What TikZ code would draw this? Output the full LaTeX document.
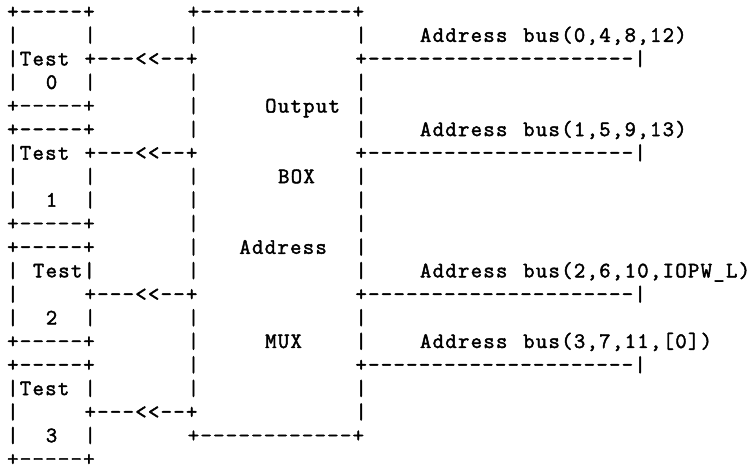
\documentclass[tikz,border=0pt]{standalone}
\usepackage{fontspec}
\setmonofont{Latin Modern Mono}[FakeBold=2, LetterSpace=6.14]
\newcommand\pitch{12.9}
\newcommand\rowh{23.55}
\tikzset{
  ascii/.style={anchor=base west, inner sep=0pt, outer sep=0pt,
    font=\ttfamily\fontsize{22}{22}\selectfont, text=black}
}
\newcommand\At[4]{\node[ascii] (#1) at ({7.2+#2*\pitch},{-(18.3+#3*\rowh)}) {#4};}
\begin{document}
\begin{tikzpicture}[x=1pt,y=1pt]
\useasboundingbox[fill=white] (0,0) rectangle (756,-470);
% row 0
\At{r0a}{0}{0}{+-----+}
\At{r0b}{14}{0}{+------------+}
% row 1
\At{r1a}{0}{1}{|}
\At{r1b}{6}{1}{|}
\At{r1c}{14}{1}{|}
\At{r1d}{27}{1}{|}
\At{r1e}{32}{1}{Address}
\At{r1f}{40}{1}{bus(0,4,8,12)}
% row 2
\At{r2a}{0}{2}{|Test}
\At{r2b}{6}{2}{+---<<--+}
\At{r2c}{27}{2}{+---------------------|}
% row 3
\At{r3a}{0}{3}{|}
\At{r3b}{3}{3}{0}
\At{r3c}{6}{3}{|}
\At{r3d}{14}{3}{|}
\At{r3e}{27}{3}{|}
% row 4
\At{r4a}{0}{4}{+-----+}
\At{r4b}{14}{4}{|}
\At{r4c}{20}{4}{Output}
\At{r4d}{27}{4}{|}
% row 5
\At{r5a}{0}{5}{+-----+}
\At{r5b}{14}{5}{|}
\At{r5c}{27}{5}{|}
\At{r5d}{32}{5}{Address}
\At{r5e}{40}{5}{bus(1,5,9,13)}
% row 6
\At{r6a}{0}{6}{|Test}
\At{r6b}{6}{6}{+---<<--+}
\At{r6c}{27}{6}{+---------------------|}
% row 7
\At{r7a}{0}{7}{|}
\At{r7b}{6}{7}{|}
\At{r7c}{14}{7}{|}
\At{r7d}{21}{7}{BOX}
\At{r7e}{27}{7}{|}
% row 8
\At{r8a}{0}{8}{|}
\At{r8b}{3}{8}{1}
\At{r8c}{6}{8}{|}
\At{r8d}{14}{8}{|}
\At{r8e}{27}{8}{|}
% row 9
\At{r9a}{0}{9}{+-----+}
\At{r9b}{14}{9}{|}
\At{r9c}{27}{9}{|}
% row 10
\At{r10a}{0}{10}{+-----+}
\At{r10b}{14}{10}{|}
\At{r10c}{18}{10}{Address}
\At{r10d}{27}{10}{|}
% row 11
\At{r11a}{0}{11}{|}
\At{r11b}{2}{11}{Test|}
\At{r11c}{14}{11}{|}
\At{r11d}{27}{11}{|}
\At{r11e}{32}{11}{Address}
\At{r11f}{40}{11}{bus(2,6,10,IOPW\_L)}
% row 12
\At{r12a}{0}{12}{|}
\At{r12b}{6}{12}{+---<<--+}
\At{r12c}{27}{12}{+---------------------|}
% row 13
\At{r13a}{0}{13}{|}
\At{r13b}{3}{13}{2}
\At{r13c}{6}{13}{|}
\At{r13d}{14}{13}{|}
\At{r13e}{27}{13}{|}
% row 14
\At{r14a}{0}{14}{+-----+}
\At{r14b}{14}{14}{|}
\At{r14c}{20}{14}{MUX}
\At{r14d}{27}{14}{|}
\At{r14e}{32}{14}{Address}
\At{r14f}{40}{14}{bus(3,7,11,[0])}
% row 15
\At{r15a}{0}{15}{+-----+}
\At{r15b}{14}{15}{|}
\At{r15c}{27}{15}{+---------------------|}
% row 16
\At{r16a}{0}{16}{|Test}
\At{r16b}{6}{16}{|}
\At{r16c}{14}{16}{|}
\At{r16d}{27}{16}{|}
% row 17
\At{r17a}{0}{17}{|}
\At{r17b}{6}{17}{+---<<--+}
\At{r17c}{27}{17}{|}
% row 18
\At{r18a}{0}{18}{|}
\At{r18b}{3}{18}{3}
\At{r18c}{6}{18}{|}
\At{r18d}{14}{18}{+------------+}
% row 19
\At{r19a}{0}{19}{+-----+}
\end{tikzpicture}
\end{document}
